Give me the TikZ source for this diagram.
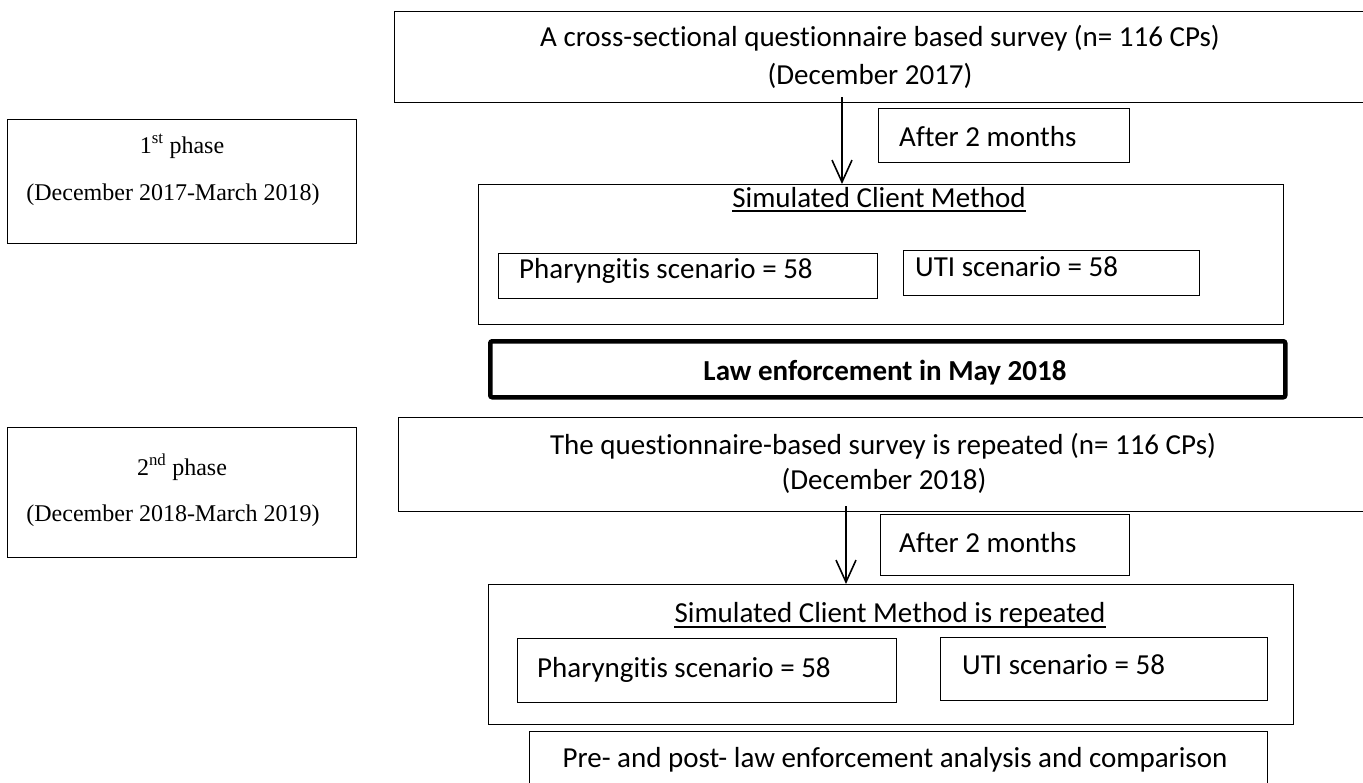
\documentclass[tikz,border=0pt]{standalone}
\usepackage{fontspec}
\setmainfont{Carlito}[Ligatures={NoCommon,NoContextual},Contextuals={NoAlternate}]
\newfontfamily\tnr{Liberation Serif}
\newcommand\brk{\kern0pt{}}
\usetikzlibrary{arrows.meta}
\begin{document}
\begin{tikzpicture}[x=1pt,y=-1pt,
  box/.style={draw=black, line width=1.3pt, inner sep=0pt, anchor=north west},
  txt/.style={inner sep=0pt, font=\fontsize{29}{35}\selectfont},
  ser/.style={inner sep=0pt, font=\tnr\fontsize{24}{29}\selectfont},
  arr/.style={line width=2pt, -{Straight Barb[length=22pt,width=20pt,line width=1.6pt]}},
  ul/.style={line width=1.5pt}]
\useasboundingbox (0,0) rectangle (1363,782);
\clip (0,0) rectangle (1363,782);
\fill[white] (0,0) rectangle (1363,782);

% phase boxes
\node[box, minimum width=349pt, minimum height=124pt] (ph1) at (7,119) {};
\node[ser, anchor=base] (ph1a) at (182,153) {1\textsuperscript{st} phase};
\node[ser, anchor=base] (ph1b) at (173,200) {(December 2017-March 2018)};

\node[box, minimum width=349pt, minimum height=130pt] (ph2) at (7,427) {};
\node[ser, anchor=base] (ph2a) at (182,475) {2\textsuperscript{nd} phase};
\node[ser, anchor=base] (ph2b) at (173,521) {(December 2018-March 2019)};

% first phase flow
\node[box, minimum width=1006pt, minimum height=91pt] (top1) at (394,11) {};
\node[txt, anchor=base] (top1a) at (880,46) {A cross-sect\brk ional questionnaire based survey (n= 116 CPs)};
\node[txt, anchor=base] (top1b) at (870,84) {(December 2017)};

\node[box, minimum width=251pt, minimum height=54pt] (aft1) at (878,108) {};
\node[txt, anchor=base west] (aft1t) at (899,146) {After 2 months};

\node[box, minimum width=805pt, minimum height=140pt] (scm1) at (478,184) {};
\node[txt, anchor=base] (scm1t) at (879,207) {Simulated Client Method};
\draw[ul] ([yshift=-4pt]scm1t.base west) -- ([yshift=-4pt]scm1t.base east);

\node[box, minimum width=379pt, minimum height=45pt] (ph1p) at (498,253) {};
\node[txt, anchor=base west] (ph1pt) at (519,278) {Pharyngit\brk is scenario = 58};
\node[box, minimum width=296pt, minimum height=45pt] (uti1) at (903,250) {};
\node[txt, anchor=base west] (uti1t) at (915,276) {UTI scenario = 58};

\coordinate (a1) at (842,97);
\draw[arr] (a1) -- (a1 |- scm1.north);

% law enforcement
\node[box, line width=4.5pt, rounded corners=2pt, minimum width=795pt, minimum height=56pt] (law) at (488,339) {};
\node[txt, anchor=base, font=\fontsize{29}{35}\selectfont\bfseries] (lawt) at (885,380) {Law enforcement in May 2018};

% second phase flow
\node[box, minimum width=1002pt, minimum height=94pt] (top2) at (398,417) {};
\node[txt, anchor=base] (top2a) at (883,454) {The questionnaire-based survey is repeated (n= 116 CPs)};
\node[txt, anchor=base] (top2b) at (884,489) {(December 2018)};

\node[box, minimum width=249pt, minimum height=61pt] (aft2) at (880,514) {};
\node[txt, anchor=base west] (aft2t) at (899,552) {After 2 months};

\node[box, minimum width=805pt, minimum height=140pt] (scm2) at (488,584) {};
\node[txt, anchor=base] (scm2t) at (890,622) {Simulated Client Method is repeated};
\draw[ul] ([yshift=-5pt]scm2t.base west) -- ([yshift=-5pt]scm2t.base east);

\node[box, minimum width=379pt, minimum height=64pt] (ph2p) at (517,638) {};
\node[txt, anchor=base west] (ph2pt) at (537,677) {Pharyngit\brk is scenario = 58};
\node[box, minimum width=327pt, minimum height=63pt] (uti2) at (940,637) {};
\node[txt, anchor=base west] (uti2t) at (962,674) {UTI scenario = 58};

\coordinate (a2) at (846,506);
\draw[arr] (a2) -- (a2 |- scm2.north);

\node[box, minimum width=738pt, minimum height=80pt] (fin) at (529,731) {};
\node[txt, anchor=base] (fint) at (895,767) {Pre- and post- law enforcement analysis and comparison};
\end{tikzpicture}
\end{document}
